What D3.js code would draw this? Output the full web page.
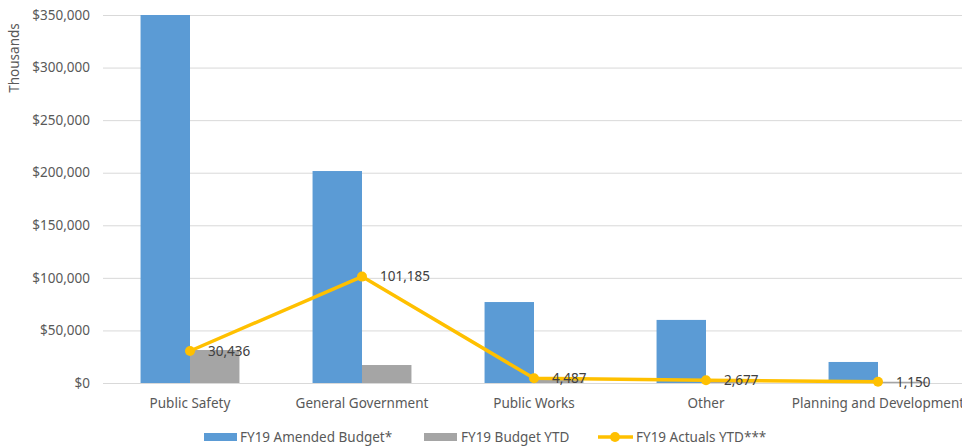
<!DOCTYPE html>
<meta charset="utf-8">
<head>
    <style>
        body, html {
            margin: 0;
            background: white;
            font-family: "Noto Sans", sans-serif;
            overflow: hidden;
        }
        .grid line { stroke: #d9d9d9; }
        .axis text { fill: #595959; font-size: 13.5px; }
        .lbl { fill: #404040; font-size: 13.5px; }
    </style>
    <script src="https://cdn.jsdelivr.net/npm/d3@7"></script>
</head>
<body>
<svg id="chart" width="962" height="446"></svg>
<script>
    var categories = ["Public Safety", "General Government", "Public Works", "Other", "Planning and Development"];
    var amendedBudget = [350000, 201600, 77000, 60000, 20000];
    var budgetYTD = [31400, 17100, 4600, 2800, 1200];
    var actualsYTD = [30436, 101185, 4487, 2677, 1150];
    var yTicks = [0, 50000, 100000, 150000, 200000, 250000, 300000, 350000];
    var seriesNames = ["FY19 Amended Budget*", "FY19 Budget YTD", "FY19 Actuals YTD***"];
    var colors = ["#5b9bd5", "#a5a5a5", "#ffc000"];

    (function(){
    var svg = d3.select("#chart");
    var pLeft = 104, pRight = 964, pTop = 15, pBottom = 383;

    var x = d3.scaleBand().domain(categories).range([pLeft, pRight])
        .paddingInner(0.425).paddingOuter(0.2125);
    var xs = d3.scaleBand().domain([0, 1]).range([0, x.bandwidth()]);
    var y = d3.scaleLinear().domain([0, 350000]).range([pBottom, pTop]);
    var fmt = d3.format(",");

    // gridlines
    svg.append("g").attr("class", "grid")
        .selectAll("line").data(yTicks).enter().append("line")
        .attr("x1", pLeft - 1).attr("x2", 962)
        .attr("y1", function(d){return y(d) + 0.5})
        .attr("y2", function(d){return y(d) + 0.5});

    // y axis labels
    svg.append("g").attr("class", "axis")
        .selectAll("text").data(yTicks).enter().append("text")
        .attr("x", 90).attr("y", function(d){return y(d)})
        .attr("dy", "0.35em").attr("text-anchor", "end")
        .text(function(d){return "$" + fmt(d)});

    svg.append("g").attr("class", "axis").append("text")
        .attr("transform", "translate(19,58) rotate(-90)")
        .attr("text-anchor", "middle")
        .text("Thousands");

    // bars
    var barSeries = [amendedBudget, budgetYTD];
    barSeries.forEach(function(vals, si){
        svg.append("g").selectAll("rect").data(categories).enter().append("rect")
            .attr("x", function(d){return x(d) + xs(si)})
            .attr("width", xs.bandwidth())
            .attr("y", function(d, i){return y(vals[i])})
            .attr("height", function(d, i){return pBottom - y(vals[i])})
            .attr("fill", colors[si]);
    });

    // x labels
    svg.append("g").attr("class", "axis")
        .selectAll("text").data(categories).enter().append("text")
        .attr("x", function(d){return x(d) + x.bandwidth() / 2})
        .attr("y", 408).attr("text-anchor", "middle")
        .text(function(d){return d});

    // line
    var cx = function(d){return x(d) + x.bandwidth() / 2};
    var line = d3.line()
        .x(function(d){return cx(d)})
        .y(function(d, i){return y(actualsYTD[i])});
    svg.append("path").datum(categories)
        .attr("d", line).attr("fill", "none")
        .attr("stroke", colors[2]).attr("stroke-width", 3.5)
        .attr("stroke-linejoin", "round");
    svg.append("g").selectAll("circle").data(categories).enter().append("circle")
        .attr("cx", cx).attr("cy", function(d, i){return y(actualsYTD[i])})
        .attr("r", 5).attr("fill", colors[2]);
    svg.append("g").selectAll("text").data(categories).enter().append("text")
        .attr("class", "lbl")
        .attr("x", function(d){return cx(d) + 18})
        .attr("y", function(d, i){return y(actualsYTD[i])})
        .attr("dy", "0.35em")
        .text(function(d, i){return fmt(actualsYTD[i])});

    // legend
    var lg = svg.append("g").attr("class", "axis");
    var ly = 437;
    lg.append("rect").attr("x", 204).attr("y", ly - 4).attr("width", 33).attr("height", 8).attr("fill", colors[0]);
    lg.append("text").attr("x", 240).attr("y", ly).attr("dy", "0.35em").text(seriesNames[0]);
    lg.append("rect").attr("x", 424).attr("y", ly - 4).attr("width", 33).attr("height", 8).attr("fill", colors[1]);
    lg.append("text").attr("x", 461).attr("y", ly).attr("dy", "0.35em").text(seriesNames[1]);
    lg.append("line").attr("x1", 598).attr("x2", 633).attr("y1", ly).attr("y2", ly)
        .attr("stroke", colors[2]).attr("stroke-width", 3.5);
    lg.append("circle").attr("cx", 615).attr("cy", ly).attr("r", 5).attr("fill", colors[2]);
    lg.append("text").attr("x", 636).attr("y", ly).attr("dy", "0.35em").text(seriesNames[2]);
    })();
</script>
</body>
